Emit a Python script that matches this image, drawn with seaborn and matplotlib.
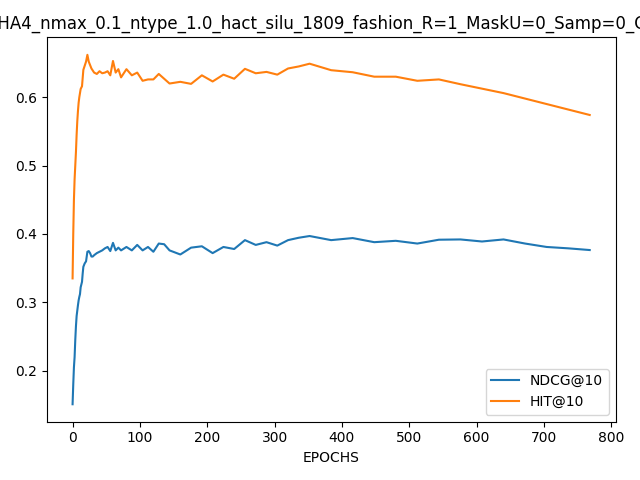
import pandas as pd
import matplotlib
matplotlib.use('Agg')
import matplotlib.pyplot as plt
import seaborn as sns

# evaluation epochs (dense early, sparse later)
epochs = [0, 1, 2, 3, 4, 5, 6, 7, 8, 9, 10, 11, 12, 13, 14, 15, 16,
          18, 20, 22, 24, 26, 28, 30, 32,
          36, 40, 44, 48, 52, 56, 60, 64, 68, 72,
          80, 88, 96, 104, 112, 120, 128, 136, 144,
          160, 176, 192, 208, 224, 240, 256, 272, 288, 304, 320, 336, 352,
          384, 416, 448, 480, 512, 544, 576, 608, 640, 672, 704, 736, 768]

ndcg = [0.151, 0.180, 0.205, 0.220, 0.245, 0.265, 0.280, 0.288, 0.296, 0.303, 0.308, 0.312, 0.322, 0.326, 0.330, 0.342, 0.352,
        0.357, 0.360, 0.374, 0.375, 0.372, 0.367, 0.367, 0.369,
        0.372, 0.374, 0.376, 0.379, 0.381, 0.375, 0.387, 0.376, 0.380, 0.376,
        0.381, 0.376, 0.384, 0.376, 0.381, 0.374, 0.386, 0.385, 0.376,
        0.370, 0.380, 0.382, 0.372, 0.381, 0.378, 0.391, 0.384, 0.388, 0.383, 0.391, 0.3945, 0.397,
        0.391, 0.394, 0.388, 0.390, 0.386, 0.3916, 0.392, 0.389, 0.392, 0.386, 0.381, 0.379, 0.3765]

hit = [0.335, 0.400, 0.450, 0.480, 0.500, 0.520, 0.545, 0.565, 0.580, 0.592, 0.600, 0.606, 0.612, 0.614, 0.616, 0.628, 0.640,
       0.646, 0.652, 0.662, 0.652, 0.647, 0.642, 0.639, 0.636,
       0.634, 0.638, 0.635, 0.636, 0.638, 0.632, 0.653, 0.636, 0.641, 0.629,
       0.641, 0.632, 0.636, 0.624, 0.626, 0.626, 0.634, 0.627, 0.620,
       0.6225, 0.6195, 0.632, 0.623, 0.633, 0.627, 0.6415, 0.635, 0.637, 0.633, 0.642, 0.645, 0.649,
       0.6395, 0.6365, 0.630, 0.630, 0.624, 0.626, 0.619, 0.6125, 0.606, 0.598, 0.590, 0.582, 0.574]

title = 'MHA4_nmax_0.1_ntype_1.0_hact_silu_1809_fashion_R=1_MaskU=0_Samp=0_CL=1'

df = pd.DataFrame({'epoch': epochs, 'ndcg': ndcg, 'hit': hit})

fig, ax = plt.subplots(figsize=(6.4, 4.8), dpi=100)
sns.lineplot(data=df, x='epoch', y='ndcg', label='NDCG@10', ax=ax)
sns.lineplot(data=df, x='epoch', y='hit', label='HIT@10', ax=ax)
ax.set_title(title)
ax.set_xlabel('EPOCHS')
ax.set_ylabel('')
ax.legend(loc='lower right')
plt.tight_layout()
plt.savefig('out.png', dpi=100)
plt.close()
